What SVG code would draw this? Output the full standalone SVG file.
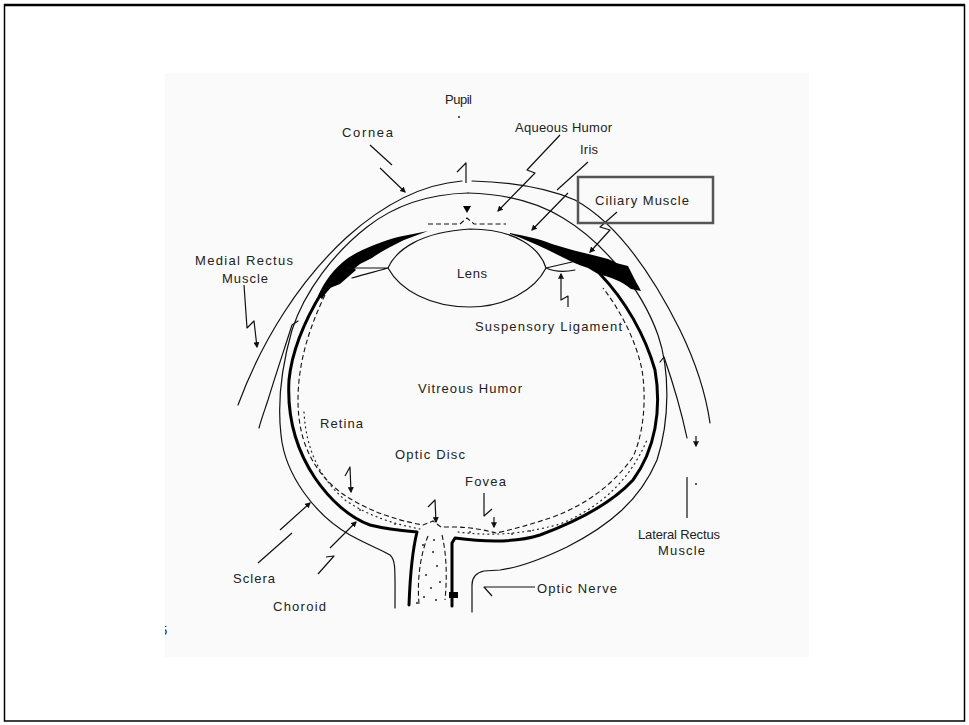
<svg xmlns="http://www.w3.org/2000/svg" width="969" height="725" viewBox="0 0 969 725">
<defs>
<marker id="ah" viewBox="0 0 10 10" refX="8" refY="5" markerWidth="5" markerHeight="5" orient="auto"><path d="M0,0 L10,5 L0,10 z" fill="#111"/></marker>
<clipPath id="pic"><rect x="165" y="73" width="644" height="584"/></clipPath>
</defs>
<style>
.t{font-family:"Liberation Sans",Arial,sans-serif;font-size:13px;fill:#222}
.ln{fill:none;stroke:#111;stroke-width:1.2;stroke-linecap:round;stroke-linejoin:round}
.thk{fill:none;stroke:#000;stroke-width:3;stroke-linecap:round;stroke-linejoin:round}
.dsh{fill:none;stroke:#111;stroke-width:1.1;stroke-dasharray:5,3}
.dot{fill:none;stroke:#222;stroke-width:1.2;stroke-dasharray:1,4;stroke-linecap:round}
.ar{fill:none;stroke:#111;stroke-width:1.2;stroke-linejoin:round}
.blk{fill:#000}
</style>
<rect x="0" y="0" width="969" height="725" fill="#fff"/>
<rect x="4.5" y="5" width="960" height="716" fill="none" stroke="#000" stroke-width="1.5"/>
<line x1="4" y1="5" x2="965" y2="5" stroke="#000" stroke-width="2.5"/>
<rect x="165" y="73" width="644" height="584" fill="#fafafa"/>

<g id="eye">
<path class="ln" d="M238,405 C262,340 300,280 347,237 C385,203 425,184 462,181 M472,181 C510,182 545,187 575,200 C615,222 650,270 680,330 C697,365 706,395 710,423"/>
<path class="ln" d="M468,193 C430,194 395,205 367,227 C335,252 305,290 292,330 C282,365 277,400 281,435 C285,475 315,515 350,535 C368,545 382,550 390,555 C396,560 395,570 395,608"/>
<path class="ln" d="M468,193 C510,194 540,204 563,218 C600,240 640,285 658,335 C670,370 670,420 657,460 C640,500 610,525 567,547 C540,560 515,568 500,570 L484,571 C475,573 472,578 472,585 L472,612"/>
<path class="ln" d="M298,321 L292,325 C284,350 274,380 268,400 C264,412 261,420 259,428"/>
<path class="ln" d="M660,362 L664,357 C672,380 680,405 687,438"/>
<path class="thk" d="M322,292 C305,320 292,350 289,380 C287,415 295,448 315,478 C330,500 350,518 370,525 C390,530 405,531 417,532 C412,552 410,578 409,605"/>
<path class="thk" d="M600,274 C625,300 645,335 655,370 C662,410 655,450 633,480 C610,505 575,522 540,535 C515,543 485,542 455,538 L452,543 L452,606"/>
<path class="dsh" d="M325,295 C308,330 298,365 298,400 C298,440 312,470 340,492 C365,510 395,520 423,525 L433,521 L441,527 L453,527 C470,527 485,530 496,533 C505,531 520,528 553,517 C590,503 615,482 633,457 C645,430 646,395 642,370 C636,340 620,310 603,288"/>
<path class="dot" d="M304,412 C306,450 320,478 345,500 C370,517 395,524 420,529"/>
<path class="dot" d="M458,532 C490,536 520,535 560,524 C600,508 630,480 647,440"/>
<!-- ciliary bodies -->
<path class="blk" d="M318,296 C324,282 334,268 348,258 C362,249 380,242 398,237 L428,231 L404,240 C392,246 380,252 372,258 L360,264 L350,272 C338,280 328,289 322,299 Z"/>
<path class="blk" d="M330,288 L348,262 L356,270 L340,284 Z"/>
<path class="blk" d="M510,233 C525,236 540,239 552,244 C570,250 590,254 608,259 C624,265 634,276 641,291 L631,289 C622,281 610,277 598,274 L588,268 C575,264 562,257 548,250 C535,244 522,238 510,234 Z"/>
<path class="blk" d="M596,258 L628,266 L636,282 L612,274 Z"/>
<path class="ln" d="M388,268 C396,250 420,232 470,229 C515,229 540,248 546,268 C535,290 505,307 470,307 C430,307 400,290 388,268 Z"/>
<path class="ln" d="M347,268 L388,268 M352,278 C365,274 378,271 388,268 M546,268 L572,262 M546,268 C555,272 565,272 575,270"/>
<path class="dsh" d="M428,224 L460,224 L467,218 L474,224 L506,224"/>
<path class="dsh" d="M428,536 C420,556 417,580 419,604"/>
<path class="dsh" d="M442,535 C447,556 447,580 445,600"/>
<g fill="#222">
<circle cx="423" cy="545" r="1"/><circle cx="433" cy="552" r="1"/><circle cx="437" cy="566" r="1"/><circle cx="426" cy="575" r="1"/><circle cx="431" cy="588" r="1"/><circle cx="424" cy="597" r="1"/><circle cx="440" cy="582" r="1"/><circle cx="434" cy="540" r="1"/><circle cx="417" cy="603" r="1"/><circle cx="436" cy="600" r="1"/>
<circle cx="470" cy="532" r="0.9"/><circle cx="512" cy="534" r="0.9"/><circle cx="530" cy="531" r="0.9"/><circle cx="395" cy="524" r="0.9"/><circle cx="360" cy="510" r="0.9"/>
</g>
<rect class="blk" x="449" y="592" width="9" height="6"/>
</g>

<g id="connectors">
<path class="ar" d="M370,145 L392,165 M380,168 L405,192" marker-end="url(#ah)"/>
<circle cx="459" cy="117" r="1" fill="#222"/>
<path class="ar" d="M457,172 L466,163 L466,183"/>
<path class="blk" d="M463,206 L471,206 L467,213 Z"/>
<path class="ar" d="M560,135 L527,170 L535,173 L498,211" marker-end="url(#ah)"/>
<path class="ar" d="M588,162 L557,190 M568,193 L532,230" marker-end="url(#ah)"/>
<path class="ar" d="M617,212 L600,227 L610,230 L590,252" marker-end="url(#ah)"/>
<path class="ar" d="M568,307 L568,296 L561,300 L561,274" marker-end="url(#ah)"/>
<path class="ar" d="M244,285 L247,328 L254,321 L257,347" marker-end="url(#ah)"/>
<path class="ar" d="M687,518 L687,477"/>
<circle cx="696" cy="484" r="1" fill="#222"/>
<path class="ar" d="M696,436 L696,446" marker-end="url(#ah)"/>
<path class="ar" d="M345,476 L350,467 L351,492" marker-end="url(#ah)"/>
<path class="ar" d="M428,507 L435,500 L436,522" marker-end="url(#ah)"/>
<path class="ar" d="M484,493 L484,516 L492,509"/>
<path class="ar" d="M494,517 L494,527" marker-end="url(#ah)"/>
<path class="ar" d="M258,563 L292,533 M280,530 L310,503" marker-end="url(#ah)"/>
<path class="ar" d="M318,574 L334,556 L326,557 M330,548 L356,522" marker-end="url(#ah)"/>
<path class="ar" d="M535,587 L484,587 L492,596"/>
</g>

<g id="ciliary-box">
<rect x="578" y="177" width="135" height="46" fill="none" stroke="#555" stroke-width="2.5"/>
<text class="t" x="595" y="205" textLength="94" lengthAdjust="spacing">Ciliary Muscle</text>
</g>

<g id="labels">
<text class="t" x="445" y="104" textLength="27" lengthAdjust="spacing">Pupil</text>
<text class="t" x="342" y="137" textLength="51" lengthAdjust="spacing">Cornea</text>
<text class="t" x="515" y="132" textLength="97" lengthAdjust="spacing">Aqueous Humor</text>
<text class="t" x="580" y="154" textLength="18" lengthAdjust="spacing">Iris</text>
<text class="t" x="195" y="265" textLength="98" lengthAdjust="spacing">Medial Rectus</text>
<text class="t" x="222" y="283" textLength="46" lengthAdjust="spacing">Muscle</text>
<text class="t" x="457" y="278" textLength="30" lengthAdjust="spacing">Lens</text>
<text class="t" x="475" y="331" textLength="147" lengthAdjust="spacing">Suspensory Ligament</text>
<text class="t" x="418" y="393" textLength="104" lengthAdjust="spacing">Vitreous Humor</text>
<text class="t" x="320" y="428" textLength="43" lengthAdjust="spacing">Retina</text>
<text class="t" x="395" y="459" textLength="70" lengthAdjust="spacing">Optic Disc</text>
<text class="t" x="465" y="486" textLength="41" lengthAdjust="spacing">Fovea</text>
<text class="t" x="638" y="539" textLength="82" lengthAdjust="spacing">Lateral Rectus</text>
<text class="t" x="658" y="555" textLength="47" lengthAdjust="spacing">Muscle</text>
<text class="t" x="233" y="583" textLength="42" lengthAdjust="spacing">Sclera</text>
<text class="t" x="273" y="611" textLength="53" lengthAdjust="spacing">Choroid</text>
<text class="t" x="537" y="593" textLength="80" lengthAdjust="spacing">Optic Nerve</text>
<text class="t" x="160" y="635" clip-path="url(#pic)">5</text>
</g>
</svg>
